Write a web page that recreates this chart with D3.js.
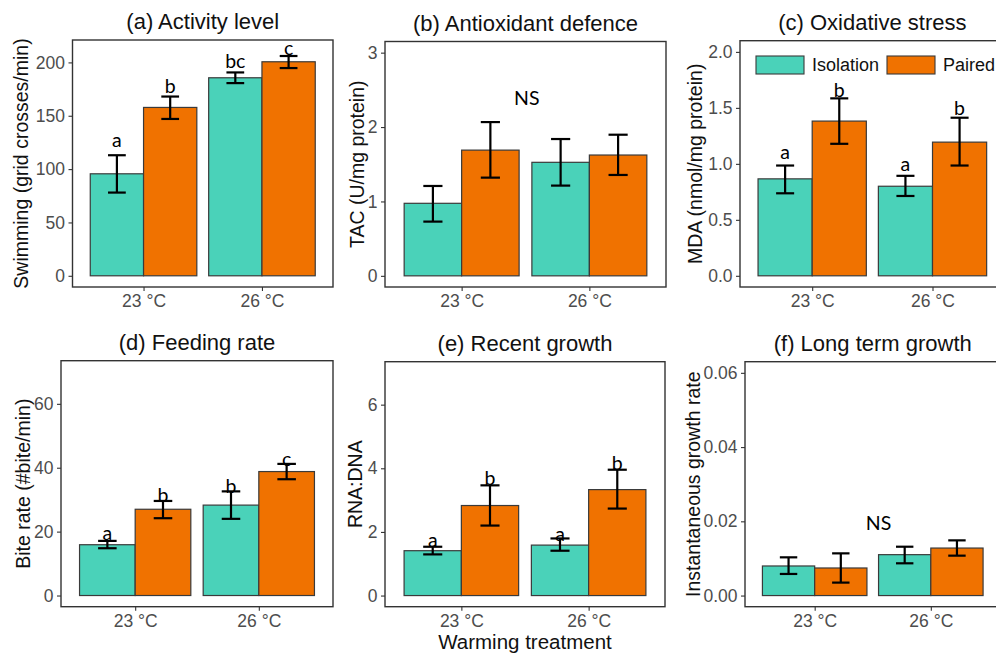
<!DOCTYPE html>
<html>
<head>
<meta charset="utf-8">
<script src="https://cdn.jsdelivr.net/npm/d3@7"></script>
<style>
  body { margin: 0; background: #fff; }
  svg { display: block; font-family: "Liberation Sans", Arial, sans-serif; }
</style>
</head>
<body>
<div class="root"></div>
<script>
// categories
var temps = ['23 °C', '26 °C'];
var treatments = ['Isolation', 'Paired'];
var colours = ['#4AD2B9', '#F07200'];

// (a) activity level, [temp][treatment]
var activityMean = [[95.6, 157.8], [185.6, 200.6]];
var activityLow = [[78, 147], [180.6, 194.7]];
var activityHigh = [[113, 168], [190.6, 206]];
var activityLetters = [['a', 'b'], ['bc', 'c']];
var activityLetterY = [[121, 171], [194.5, 207]];

// (b) antioxidant defence
var tacMean = [[0.975, 1.69], [1.526, 1.624]];
var tacLow = [[0.729, 1.32], [1.213, 1.356]];
var tacHigh = [[1.208, 2.067], [1.839, 1.897]];

// (c) oxidative stress
var mdaMean = [[0.866, 1.382], [0.80, 1.194]];
var mdaLow = [[0.737, 1.179], [0.713, 0.985]];
var mdaHigh = [[0.985, 1.585], [0.893, 1.412]];
var mdaLetters = [['a', 'b'], ['a', 'b']];
var mdaLetterY = [[1.045, 1.597], [0.94, 1.433]];

// (d) feeding rate
var biteMean = [[15.9, 27.0], [28.3, 38.8]];
var biteLow = [[14.8, 24.2], [24.0, 36.4]];
var biteHigh = [[17.1, 29.6], [32.6, 41.2]];
var biteLetters = [['a', 'b'], ['b', 'c']];
var biteLetterY = [[17.4, 29.4], [32.2, 40.6]];

// (e) recent growth
var rnaMean = [[1.41, 2.83], [1.586, 3.33]];
var rnaLow = [[1.294, 2.2], [1.409, 2.734]];
var rnaHigh = [[1.534, 3.464], [1.795, 3.955]];
var rnaLetters = [['a', 'b'], ['a', 'b']];
var rnaLetterY = [[1.53, 3.46], [1.72, 3.96]];

// (f) long term growth
var growthMean = [[0.00797, 0.00743], [0.01102, 0.0128]];
var growthLow = [[0.00582, 0.00349], [0.00869, 0.01075]];
var growthHigh = [[0.0103, 0.01137], [0.01316, 0.01487]];

// tick labels
var activityTicks = [0, 50, 100, 150, 200];
var tacTicks = [0, 1, 2, 3];
var mdaTicks = [0, 0.5, 1, 1.5, 2];
var biteTicks = [0, 20, 40, 60];
var rnaTicks = [0, 2, 4, 6];
var growthTicks = [0, 0.02, 0.04, 0.06];

var panels = [
  {title: '(a) Activity level', ylab: 'Swimming (grid crosses/min)',
   box: [72.5, 40, 333, 287], ylabX: 21, domain: [-10.5, 221], ticks: activityTicks, fmt: d3.format('d'),
   mean: activityMean, low: activityLow, high: activityHigh, letters: activityLetters, letterY: activityLetterY},
  {title: '(b) Antioxidant defence', ylab: 'TAC (U/mg protein)',
   box: [385, 41.5, 666, 287], ylabX: 357, domain: [-0.15, 3.15], ticks: tacTicks, fmt: d3.format('d'),
   mean: tacMean, low: tacLow, high: tacHigh, ns: [1.51, 2.385]},
  {title: '(c) Oxidative stress', ylab: 'MDA (nmol/mg protein)',
   box: [740, 40.7, 1004.7, 287], ylabX: 695, domain: [-0.1, 2.1], ticks: mdaTicks, fmt: d3.format('.1f'),
   mean: mdaMean, low: mdaLow, high: mdaHigh, letters: mdaLetters, letterY: mdaLetterY, legend: true},
  {title: '(d) Feeding rate', ylab: 'Bite rate (#bite/min)',
   box: [61, 360.7, 333, 606.7], ylabX: 23.5, domain: [-3.5, 73.5], ticks: biteTicks, fmt: d3.format('d'),
   mean: biteMean, low: biteLow, high: biteHigh, letters: biteLetters, letterY: biteLetterY},
  {title: '(e) Recent growth', ylab: 'RNA:DNA',
   box: [385, 361.7, 665, 606.7], ylabX: 355, domain: [-0.35, 7.35], ticks: rnaTicks, fmt: d3.format('d'),
   mean: rnaMean, low: rnaLow, high: rnaHigh, letters: rnaLetters, letterY: rnaLetterY, xlab: 'Warming treatment'},
  {title: '(f) Long term growth', ylab: 'Instantaneous growth rate',
   box: [745, 361.7, 1000.5, 606.7], ylabX: 693.5, domain: [-0.003, 0.063], ticks: growthTicks, fmt: d3.format('.2f'),
   mean: growthMean, low: growthLow, high: growthHigh, ns: [1.55, 0.0196]}
];

var w = 996, h = 654;
var svg = d3.select('.root').append('svg')
  .attr('width', w)
  .attr('height', h);

function drawPanel(p) {
  var x0 = p.box[0], y0 = p.box[1], x1 = p.box[2], y1 = p.box[3];

  // continuous x for discrete groups, like ggplot: 1..n with 0.6 expansion
  var x = d3.scaleLinear().domain([0.4, 2.6]).range([x0, x1]);
  var y = d3.scaleLinear().domain(p.domain).range([y1, y0]);
  var barW = 0.45;

  var g = svg.append('g');

  g.append('text')
    .attr('x', (x0 + x1) / 2)
    .attr('y', y0 - 11)
    .attr('text-anchor', 'middle')
    .attr('font-size', 22)
    .attr('fill', '#111')
    .text(p.title);

  // bars
  var rows = [];
  p.mean.forEach(function(row, i) {
    row.forEach(function(v, j) {
      rows.push({i: i, j: j, mean: v, low: p.low[i][j], high: p.high[i][j],
        letter: p.letters ? p.letters[i][j] : null,
        ly: p.letterY ? p.letterY[i][j] : null});
    });
  });

  function cx(d) { return x(d.i + 1 - barW / 2 + d.j * barW); }

  g.selectAll('rect.bar')
    .data(rows)
    .enter().append('rect')
      .attr('class', 'bar')
      .attr('x', function(d) { return x(d.i + 1 - barW + d.j * barW); })
      .attr('width', x(barW) - x(0))
      .attr('y', function(d) { return y(d.mean); })
      .attr('height', function(d) { return y(0) - y(d.mean); })
      .attr('fill', function(d) { return colours[d.j]; })
      .attr('stroke', '#3a3a3a')
      .attr('stroke-width', 1.2);

  var capW = x(0.075) - x(0);
  var err = g.selectAll('g.err')
    .data(rows)
    .enter().append('g')
      .attr('class', 'err')
      .attr('stroke', '#000')
      .attr('stroke-width', 2.2);
  err.append('line')
    .attr('x1', cx).attr('x2', cx)
    .attr('y1', function(d) { return y(d.low); })
    .attr('y2', function(d) { return y(d.high); });
  err.append('line')
    .attr('x1', function(d) { return cx(d) - capW; })
    .attr('x2', function(d) { return cx(d) + capW; })
    .attr('y1', function(d) { return y(d.high); })
    .attr('y2', function(d) { return y(d.high); });
  err.append('line')
    .attr('x1', function(d) { return cx(d) - capW; })
    .attr('x2', function(d) { return cx(d) + capW; })
    .attr('y1', function(d) { return y(d.low); })
    .attr('y2', function(d) { return y(d.low); });

  // significance letters
  if (p.letters) {
    g.selectAll('text.letter')
      .data(rows)
      .enter().append('text')
        .attr('class', 'letter')
        .attr('x', cx)
        .attr('y', function(d) { return y(d.ly); })
        .attr('text-anchor', 'middle')
        .attr('font-family', 'Lato, "Open Sans", sans-serif')
        .attr('font-size', 19.5)
        .attr('fill', '#000')
        .text(function(d) { return d.letter; });
  }
  if (p.ns) {
    g.append('text')
      .attr('x', x(p.ns[0]))
      .attr('y', y(p.ns[1]))
      .attr('dy', '0.35em')
      .attr('text-anchor', 'middle')
      .attr('font-family', 'Lato, "Open Sans", sans-serif')
      .attr('font-size', 19.5)
      .attr('fill', '#000')
      .text('NS');
  }

  // panel border
  g.append('rect')
    .attr('x', x0).attr('y', y0)
    .attr('width', x1 - x0).attr('height', y1 - y0)
    .attr('fill', 'none')
    .attr('stroke', '#333')
    .attr('stroke-width', 1.4);

  // axes
  var yAxis = g.append('g')
    .attr('transform', 'translate(' + x0 + ',0)')
    .call(d3.axisLeft(y).tickValues(p.ticks).tickFormat(p.fmt).tickSize(4).tickPadding(3.5));
  var xAxis = g.append('g')
    .attr('transform', 'translate(0,' + y1 + ')')
    .call(d3.axisBottom(x).tickValues([1, 2]).tickFormat(function(d) { return temps[d - 1]; })
      .tickSize(4).tickPadding(4));
  [yAxis, xAxis].forEach(function(a) {
    a.select('.domain').remove();
    a.selectAll('line').attr('stroke', '#333').attr('stroke-width', 1.1);
    a.selectAll('text')
      .attr('fill', '#4D4D4D')
      .attr('font-size', 17.5)
      .attr('font-family', '"Liberation Sans", Arial, sans-serif');
  });

  g.append('text')
    .attr('transform', 'translate(' + p.ylabX + ',' + (y0 + y1) / 2 + ') rotate(-90)')
    .attr('dy', '0.35em')
    .attr('text-anchor', 'middle')
    .attr('font-size', 19.5)
    .attr('fill', '#111')
    .text(p.ylab);

  if (p.xlab) {
    g.append('text')
      .attr('x', (x0 + x1) / 2)
      .attr('y', y1 + 42)
      .attr('text-anchor', 'middle')
      .attr('font-size', 20.5)
      .attr('fill', '#111')
      .text(p.xlab);
  }

  if (p.legend) {
    var lg = g.append('g').attr('transform', 'translate(756,56)');
    var item = lg.selectAll('g')
      .data(treatments)
      .enter().append('g')
        .attr('transform', function(d, i) { return 'translate(' + (i * 131) + ',0)'; });
    item.append('rect')
      .attr('width', 48).attr('height', 18)
      .attr('fill', function(d, i) { return colours[i]; })
      .attr('stroke', '#3a3a3a')
      .attr('stroke-width', 1.1);
    item.append('text')
      .attr('x', 56).attr('y', 9)
      .attr('dy', '0.35em')
      .attr('font-size', 18)
      .attr('fill', '#111')
      .text(function(d) { return d; });
  }
}

panels.forEach(drawPanel);
</script>
</body>
</html>
